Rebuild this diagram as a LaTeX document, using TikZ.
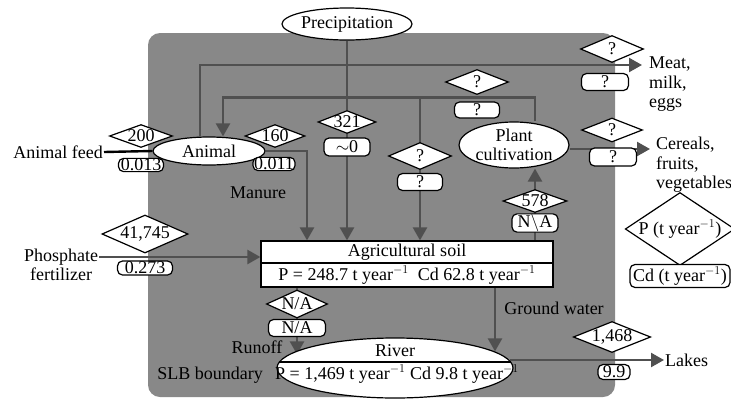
\documentclass[tikz,border=0pt]{standalone}
\usepackage{fontspec}
\setmainfont{Liberation Serif}
\usetikzlibrary{shapes.geometric,arrows.meta}
\pgfdeclarelayer{bg}
\pgfdeclarelayer{flows}
\pgfsetlayers{bg,flows,main}
\definecolor{slbgray}{RGB}{136,136,136}
\definecolor{flowgray}{RGB}{80,80,80}

\begin{document}
\begin{tikzpicture}[x=1pt, y=-1pt,
  font=\fontsize{18}{19.5}\selectfont,
  pool/.style={ellipse, draw, fill=white, line width=1.2pt, inner sep=0pt},
  val/.style={diamond, draw, fill=white, line width=1.2pt, inner sep=0pt, aspect=2.5},
  cd/.style={draw, fill=white, line width=1.2pt, rounded corners=5pt, inner sep=0.5pt},
  soilbox/.style={draw, fill=white, line width=1.2pt, inner sep=0pt, minimum width=292},
  txt/.style={inner sep=1pt, align=left},
  flow/.style={draw=flowgray, line width=2.4pt, -{Triangle[length=13pt,width=14pt]}}]
\useasboundingbox (0,0) rectangle (731,402);

% pools
\node[pool, minimum width=122, minimum height=32] (prec) at (347,24) {Precipitation};
\node[pool, minimum width=112, minimum height=28] (animal) at (209,151) {Animal};
\node[pool, minimum width=110, minimum height=46, align=center] (plant) at (514,145) {Plant\\cultivation};
\node[soilbox, minimum height=22] (soil) at (407,252) {Agricultural soil};
\node[soilbox, minimum height=24] (soilval) at (407,275) {P = 248.7 t year$^{-1}$\ \ Cd 62.8 t year$^{-1}$};
\node[pool, minimum width=236, minimum height=60] (river) at (395,368) {};
\draw[line width=1.2pt] ([shift={(-116,-6)}]river.center) -- ([shift={(116,-6)}]river.center);
\node[txt] (rivername) at (395,351) {River};
\node[txt] (riverval) at (397,374) {P = 1,469 t year$^{-1}$ Cd 9.8 t year$^{-1}$};

% sources, sinks and labels
\node[txt, anchor=east] (feed) at (104,152) {Animal feed};
\node[txt, align=center] (phos) at (61,265) {Phosphate\\fertilizer};
\coordinate (meatin) at (642,65);
\node[txt, anchor=north west] (meat) at (648,56) {Meat,\\milk,\\eggs};
\coordinate (cerin) at (650,149);
\node[txt, anchor=north west] (cereals) at (655,136) {Cereals,\\fruits,\\vegetables};
\node[txt, anchor=west] (lakes) at (664,360) {Lakes};
\node[txt] (manure) at (258,193) {Manure};
\node[txt] (runoff) at (257,347) {Runoff};
\node[txt] (ground) at (554,308) {Ground water};
\node[txt] (slb) at (210,375) {SLB boundary};

% P flows (diamonds) and Cd flows (boxes)
\foreach \n/\x/\y/\w/\h/\t in {d200/141/136/63/22/200, d160/275/136/60/22/160,
    d321/347/122/58/22/321, dq1/420/156/63/27/?, dq2/477/82/63/25/?,
    dq3/612/49/63/27/?, dq4/612/130/61/24/?, d41745/145/234/76/38/{41,745},
    dna/297/304/61/28/{N/A}, d578/535/201/64/18/578, d1468/612/337/63/31/{1,468}}
  \node[val, minimum width=\w, minimum height=\h] (\n) at (\x,\y) {\t};
\foreach \n/\x/\y/\w/\h/\t in {b013/141/165/45/13/0.013, b011/274/164/42/13/0.011,
    b0/347/147/46/18/$\sim$0, bq1/420/182/45/17/?, bq2/477/110/45/16/?,
    bq3/605/82/47/17/?, bq4/613/157/47/18/?, b273/145/268/55/14/0.273,
    bna/297/328/57/17/{N/A}, bna2/535/223/46/17/N$\backslash$A, b99/614/372/32/15/9.9}
  \node[cd, minimum width=\w, minimum height=\h] (\n) at (\x,\y) {\t};

% legend
\node[val, aspect=1.5, minimum width=100, minimum height=65] (keyp) at (680,229) {P (t year$^{-1}$)};
\node[cd, minimum width=100, minimum height=23] (keycd) at (680,276) {Cd (t year$^{-1}$)};

\begin{pgfonlayer}{bg}
\fill[slbgray, rounded corners=12pt] (148,33) rectangle (615,397);
\end{pgfonlayer}

\begin{pgfonlayer}{flows}
\draw[flow] (prec.south) -- (soil.north -| prec.south);
\draw[flow] ([xshift=-9]animal.north) |- (meatin);
\draw[flow] ([xshift=21]plant.north) -- ++(0,-24) coordinate (pa) -| ([xshift=14]animal.north);
\draw[flow] (pa -| dq1) -- (soil.north -| dq1);
\draw[flow] (animal.east) -| ([xshift=-100]soil.north);
\draw[flow] ([yshift=8]phos.east) -- ([yshift=8]phos.east -| soil.west);
\draw[flow] (soil.north -| d578) -- (plant.south -| d578);
\draw[flow] ([yshift=-4]plant.east) -- (cerin);
\draw[flow] ([xshift=88]soilval.south) -- ([shift={(100,14)}]river.north);
\draw[flow] (soilval.south -| dna) -- ([shift={(-98,17)}]river.north);
\draw[flow] ([shift={(-4,-8)}]river.east) -- (lakes.west);
\draw[line width=2.4pt] (feed.east) -- (animal.west);
\end{pgfonlayer}
\end{tikzpicture}
\end{document}
